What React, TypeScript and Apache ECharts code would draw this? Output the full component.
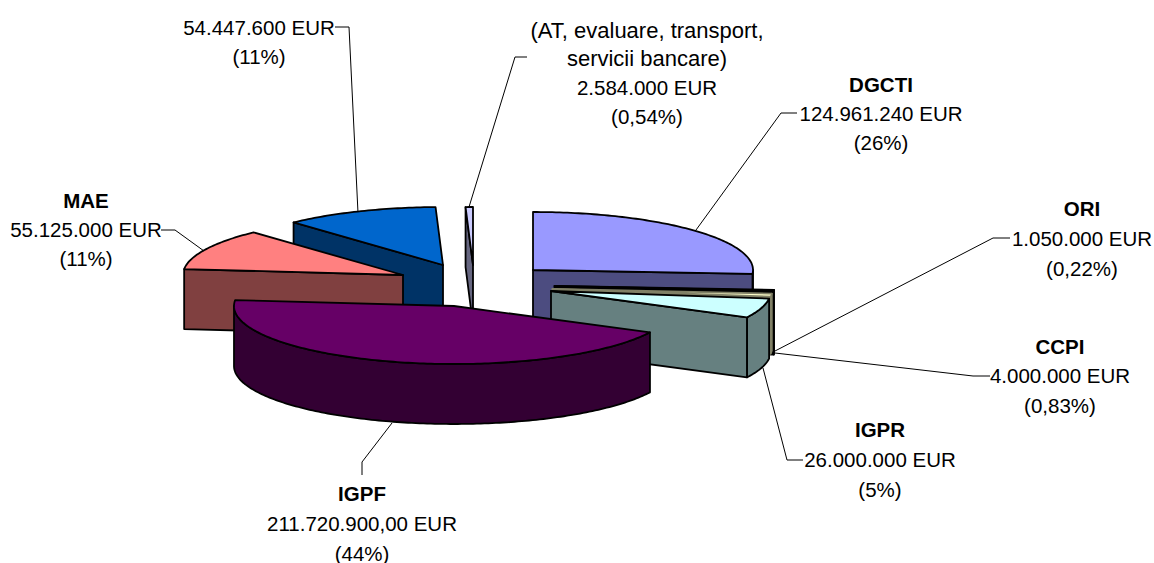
import React, { useEffect, useRef } from "react";
import * as echarts from "echarts";

// ---- data ----
const sliceNames = ["DGCTI", "ORI", "CCPI", "IGPR", "IGPF", "MAE", "", "AT"];
const sliceValues = [124961240, 1050000, 4000000, 26000000, 211720900, 55125000, 54447600, 2584000];
const topColors = ["#9999FF", "#000000", "#FFFFCC", "#CCFFFF", "#660066", "#FF8080", "#0066CC", "#CCCCFF"];
const sideColors = ["#4C4C80", "#000000", "#808066", "#668080", "#330033", "#804040", "#003366", "#666680"];
const strokeColors = ["#000", "#000", "#808066", "#000", "#000", "#000", "#000", "#000"];

// painter's order: back to front
const drawOrder = [0, 7, 6, 5, 1, 2, 3, 4];

// exploded apex of each slice on the page
const apexX = [533, 554.5, 552.5, 551, 454, 403, 443, 473];
const apexY = [270, 286, 289, 291, 306, 275, 265, 265];
const depths = [60, 64, 57, 60, 60, 60, 60, 60];
const RX = 220;
const RY = 58;
const STROKE = 1.8;

const labels: { x: number; y: number; gap: number; lines: string[]; bold?: boolean; big?: number }[] = [
  { x: 881, y: 84, gap: 29.4, bold: true, lines: ["DGCTI", "124.961.240 EUR", "(26%)"] },
  { x: 1082, y: 208, gap: 30, bold: true, lines: ["ORI", "1.050.000 EUR", "(0,22%)"] },
  { x: 1060, y: 346, gap: 29.5, bold: true, lines: ["CCPI", "4.000.000 EUR", "(0,83%)"] },
  { x: 880, y: 429, gap: 30, bold: true, lines: ["IGPR", "26.000.000 EUR", "(5%)"] },
  { x: 362, y: 493, gap: 30, bold: true, lines: ["IGPF", "211.720.900,00 EUR", "(44%)"] },
  { x: 86, y: 200, gap: 29.4, bold: true, lines: ["MAE", "55.125.000 EUR", "(11%)"] },
  { x: 259, y: 27, gap: 29.3, lines: ["54.447.600 EUR", "(11%)"] },
  { x: 647, y: 30, gap: 28.7, big: 2, lines: ["(AT, evaluare, transport,", "servicii bancare)", "2.584.000 EUR", "(0,54%)"] },
];

const leaders: number[][][] = [
  [[797, 113], [781, 113], [696, 230]],
  [[1010, 238], [993, 238], [775, 351]],
  [[990, 376], [973, 376], [775, 353]],
  [[803, 460], [787, 460], [763, 368]],
  [[392, 423], [362, 462], [362, 475]],
  [[161, 230], [175, 230], [204, 251]],
  [[335, 27], [349, 27], [358, 213]],
  [[527, 57], [515, 57], [469, 207]],
];

const total = sliceValues.reduce((a, b) => a + b, 0);
const startDeg: number[] = [];
const endDeg: number[] = [];
{
  let acc = 0;
  for (const v of sliceValues) {
    startDeg.push((acc / total) * 360);
    acc += v;
    endDeg.push((acc / total) * 360);
  }
}

function pt(i: number, deg: number, dz = 0): number[] {
  const r = (deg * Math.PI) / 180;
  return [apexX[i] + RX * Math.sin(r), apexY[i] - RY * Math.cos(r) + dz];
}
function arc(i: number, a0: number, a1: number, dz = 0): number[][] {
  const n = Math.max(1, Math.ceil(Math.abs(a1 - a0)));
  const out: number[][] = [];
  for (let k = 0; k <= n; k++) out.push(pt(i, a0 + ((a1 - a0) * k) / n, dz));
  return out;
}

function poly(points: number[][], fill: string, stroke: string) {
  return {
    type: "polygon",
    shape: { points },
    style: { fill, stroke, lineWidth: STROKE, lineJoin: "round" },
  };
}

function renderSlice(_: any, api: any) {
  const i = api.value(0) as number;
  const a0 = startDeg[i];
  const a1 = endDeg[i];
  const side = sideColors[i];
  const st = strokeColors[i];
  const d = depths[i];
  const apex = [apexX[i], apexY[i]];
  const apexLow = [apexX[i], apexY[i] + d];
  const children: any[] = [];
  // front part of the rim
  const f0 = Math.max(a0, 90);
  const f1 = Math.min(a1, 270);
  if (f1 > f0) {
    children.push(poly([...arc(i, f0, f1), ...arc(i, f1, f0, d)], side, st));
  }
  // radial walls that face the viewer
  if (a0 > 180) {
    const p = pt(i, a0);
    children.push(poly([apex, p, [p[0], p[1] + d], apexLow], side, st));
  }
  if (a1 < 180) {
    const p = pt(i, a1);
    children.push(poly([apex, p, [p[0], p[1] + d], apexLow], side, st));
  }
  // top face
  children.push(poly([apex, ...arc(i, a0, a1)], topColors[i], st));
  return { type: "group", children };
}

export default function App() {
  const ref = useRef<HTMLDivElement>(null);
  useEffect(() => {
    const chart = echarts.init(ref.current!, null, { renderer: "svg" });
    const textEls: any[] = [];
    labels.forEach((l) =>
      l.lines.forEach((t, k) => {
        const size = l.big && k < l.big ? 22 : 20.5;
        textEls.push({
          type: "text",
          x: l.x,
          y: l.y + k * l.gap,
          style: {
            text: t,
            fill: "#000",
            font: `${l.bold && k === 0 ? "bold " : ""}${size}px "Liberation Sans", Arial, sans-serif`,
            textAlign: "center",
            textVerticalAlign: "middle",
          },
        });
      })
    );
    const lineEls = leaders.map((pts) => ({
      type: "polyline",
      shape: { points: pts },
      style: { stroke: "#000", lineWidth: 1, fill: "none" },
    }));
    chart.setOption({
      animation: false,
      backgroundColor: "#fff",
      graphic: { elements: [...lineEls, ...textEls] },
      series: [
        {
          type: "custom",
          coordinateSystem: "none",
          silent: true,
          renderItem: renderSlice,
          data: drawOrder.map((i) => [i, sliceValues[i], sliceNames[i]]),
        },
      ],
    });
    return () => chart.dispose();
  }, []);
  return <div ref={ref} style={{ position: "fixed", left: 0, top: 0, width: 1154, height: 563 }} />;
}
